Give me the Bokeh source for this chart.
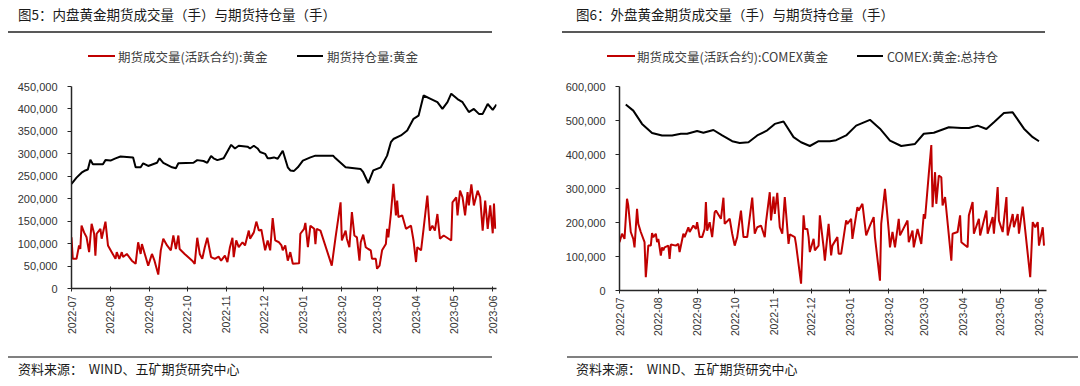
import pandas as pd
from math import pi
from bokeh.plotting import figure
from bokeh.layouts import row, column
from bokeh.models import (Div, NumeralTickFormatter, FixedTicker, DatetimeTickFormatter, Range1d)
from bokeh.embed import file_html
from bokeh.resources import INLINE

START = pd.Timestamp("2022-07-01")
month_labels = ["2022-07", "2022-08", "2022-09", "2022-10", "2022-11", "2022-12",
                "2023-01", "2023-02", "2023-03", "2023-04", "2023-05", "2023-06"]

# ---- 内盘 (SHFE gold), values in thousands of lots, x = days since 2022-07-01
sh_oi_day = [0, 4, 8, 11, 13, 15, 17, 25, 27, 31, 35, 39, 49, 51, 55, 57, 61, 68, 70, 73,
             80, 83, 85, 97, 100, 105, 108, 111, 113, 116, 121, 124, 127, 130, 133, 140, 142, 145, 148, 150,
             154, 156, 158, 161, 164, 168, 172, 174, 177, 180, 184, 190, 194, 208, 210, 218, 230, 232, 236, 240,
             246, 251, 254, 256, 262, 267, 272, 276, 280, 286, 291, 295, 299, 302, 307, 311, 316, 320, 324, 327,
             331, 335, 338]
sh_oi_k = [233, 247, 258, 263, 265, 287, 277, 277, 286, 285, 290, 294, 292, 270, 270, 279, 273, 280, 290, 280,
           270, 268, 279, 280, 286, 284, 280, 295, 290, 286, 290, 305, 320, 312, 318, 316, 312, 318, 312, 304,
           300, 290, 290, 292, 289, 307, 270, 263, 262, 270, 285, 292, 296, 296, 290, 270, 266, 259, 235, 263,
           270, 296, 326, 333, 341, 352, 378, 385, 430, 422, 415, 400, 415, 434, 422, 415, 393, 400, 389, 389,
           411, 398, 410]

sh_vol_day = [0, 1, 4, 6, 7, 8, 10, 12, 14, 16, 18, 19, 20, 23, 24, 27, 29, 32, 35, 36,
              38, 40, 41, 44, 48, 51, 53, 55, 56, 59, 61, 64, 66, 69, 71, 73, 76, 79, 81, 83,
              85, 86, 90, 96, 98, 100, 102, 104, 106, 108, 111, 114, 117, 119, 122, 124, 126, 128, 129, 131,
              133, 136, 138, 141, 142, 145, 147, 149, 151, 154, 156, 158, 160, 162, 165, 167, 168, 170, 172, 174,
              176, 181, 182, 185, 186, 188, 190, 193, 194, 195, 198, 207, 210, 214, 215, 218, 219, 221, 223, 225,
              227, 229, 230, 232, 234, 236, 238, 239, 242, 243, 245, 247, 250, 251, 252, 254, 256, 258, 259, 260,
              263, 266, 270, 272, 274, 275, 278, 280, 283, 285, 287, 289, 291, 293, 296, 302, 303, 306, 307, 309,
              311, 313, 315, 316, 318, 320, 323, 325, 327, 329, 331, 333, 335, 336, 337]
sh_vol_k = [114, 66, 66, 96, 88, 140, 125, 114, 81, 144, 122, 73, 122, 133, 111, 149, 96, 81, 66, 81,
            66, 81, 70, 77, 62, 55, 103, 77, 99, 70, 51, 77, 62, 31, 85, 111, 96, 85, 118, 88,
            118, 88, 77, 62, 55, 113, 77, 66, 92, 113, 70, 66, 71, 62, 73, 59, 92, 113, 70, 107,
            92, 103, 96, 129, 111, 125, 149, 129, 131, 85, 107, 85, 157, 107, 103, 96, 85, 96, 62, 81,
            55, 56, 122, 133, 146, 92, 140, 133, 99, 133, 129, 51, 114, 192, 107, 129, 111, 92, 170, 118,
            114, 62, 103, 120, 92, 88, 85, 66, 66, 44, 51, 85, 99, 133, 114, 166, 233, 163, 196, 159,
            163, 133, 140, 107, 59, 92, 85, 133, 207, 129, 140, 129, 166, 111, 118, 107, 192, 203, 163, 218,
            203, 163, 215, 185, 232, 185, 218, 203, 129, 196, 133, 185, 123, 189, 133]

# ---- 外盘 (COMEX gold)
cx_oi_day = [5, 11, 18, 26, 34, 42, 49, 54, 62, 67, 75, 82, 90, 96, 103, 110, 118, 124, 131, 139,
             145, 152, 159, 168, 173, 181, 189, 200, 208, 216, 225, 236, 243, 251, 263, 273, 279, 286, 293, 299,
             307, 314, 323, 330, 335]
cx_oi_k = [547, 529, 490, 463, 456, 456, 461, 461, 469, 464, 472, 456, 439, 434, 436, 456, 471, 490, 497, 451,
           436, 425, 439, 439, 442, 456, 485, 502, 476, 441, 425, 431, 461, 464, 480, 478, 478, 485, 475, 495,
           522, 524, 476, 451, 439]

cx_vol_day = [0, 2, 4, 6, 7, 9, 11, 12, 14, 15, 17, 20, 21, 23, 25, 26, 27, 29, 30, 31,
              33, 34, 35, 36, 39, 40, 41, 45, 47, 48, 51, 52, 55, 56, 59, 61, 62, 64, 66, 68,
              69, 70, 72, 74, 76, 77, 81, 83, 84, 88, 90, 92, 94, 97, 99, 102, 103, 106, 108, 110,
              113, 116, 117, 120, 121, 123, 124, 126, 128, 130, 132, 135, 136, 140, 141, 145, 147, 148, 150, 151,
              152, 155, 156, 159, 160, 163, 164, 167, 169, 170, 174, 175, 177, 181, 182, 185, 186, 190, 191, 194,
              197, 200, 203, 204, 208, 209, 212, 215, 216, 218, 220, 223, 224, 230, 231, 234, 235, 238, 241, 243,
              244, 247, 249, 250, 252, 253, 255, 257, 258, 260, 265, 266, 270, 272, 273, 278, 279, 282, 283, 287,
              288, 293, 294, 298, 299, 302, 303, 306, 309, 310, 314, 315, 318, 319, 322, 328, 330, 332, 334, 335,
              338, 339]
cx_vol_k = [142, 167, 152, 270, 250, 172, 152, 127, 240, 196, 172, 142, 39, 132, 132, 169, 157, 167, 142, 152,
            103, 127, 118, 127, 132, 93, 135, 132, 137, 113, 167, 157, 186, 172, 191, 181, 201, 157, 157, 181,
            260, 176, 201, 157, 230, 235, 211, 273, 196, 211, 167, 132, 157, 235, 157, 157, 186, 273, 167, 186,
            191, 157, 201, 289, 206, 276, 225, 287, 186, 167, 275, 137, 165, 157, 135, 20, 221, 181, 181, 157,
            113, 152, 118, 132, 221, 127, 88, 196, 103, 132, 157, 108, 108, 206, 196, 211, 152, 245, 235, 255,
            162, 191, 216, 157, 29, 196, 299, 176, 127, 172, 127, 211, 162, 206, 142, 176, 127, 181, 137, 225,
            211, 343, 428, 245, 348, 255, 338, 333, 250, 275, 88, 167, 172, 221, 142, 127, 221, 260, 167, 211,
            162, 235, 167, 216, 167, 304, 206, 172, 275, 162, 225, 186, 225, 167, 247, 39, 201, 186, 201, 132,
            186, 132]

RED = "#C00000"
BLACK = "#000000"
CJK = "Noto Sans CJK SC"
NUM = "Liberation Sans"
SOURCE = "资料来源：&nbsp;&nbsp;WIND、五矿期货研究中心"


def series(days, vals):
    pairs = list(zip(days, vals))
    x = [START + pd.Timedelta(days=d) for d, _ in pairs]
    y = [v * 1000 for _, v in pairs]
    return x, y


def chart(width, fl, fr, fb, x_end_days, ymax, ystep, vol, oi):
    p = figure(width=width, height=285, x_axis_type="datetime", output_backend="svg",
               toolbar_location=None, title=None,
               x_range=Range1d(START, START + pd.Timedelta(days=x_end_days)),
               y_range=Range1d(0, ymax),
               min_border_left=fl, min_border_right=fr, min_border_top=15, min_border_bottom=fb)
    p.outline_line_color = None
    p.grid.visible = False
    p.background_fill_color = "white"

    ticks = [pd.Timestamp(m + "-01").timestamp() * 1000 for m in month_labels]
    p.xaxis.ticker = FixedTicker(ticks=ticks)
    p.xaxis.formatter = DatetimeTickFormatter(days="%Y-%m", months="%Y-%m", years="%Y-%m")
    p.xaxis.major_label_orientation = pi / 2
    p.yaxis.ticker = FixedTicker(ticks=list(range(0, ymax + 1, ystep)))
    p.yaxis.formatter = NumeralTickFormatter(format="0,0")
    for ax in (p.xaxis, p.yaxis):
        ax.axis_line_color = "#262626"
        ax.axis_line_width = 1.5
        ax.major_tick_line_color = "#262626"
        ax.minor_tick_line_color = None
        ax.major_label_text_font = NUM
        ax.major_label_text_color = "#333333"
    p.xaxis.major_tick_out = 3
    p.xaxis.major_tick_in = 2
    p.xaxis.major_label_standoff = 4
    p.xaxis.major_label_text_font_size = "10.5px"
    p.yaxis.major_tick_out = 4
    p.yaxis.major_tick_in = 0
    p.yaxis.major_label_standoff = 10
    p.yaxis.major_label_text_font_size = "11px"

    vx, vy = series(*vol)
    ox, oy = series(*oi)
    p.line(vx, vy, line_color=RED, line_width=2)
    p.line(ox, oy, line_color=BLACK, line_width=2)
    return p


def title_div(text, width, ml, w, pl):
    html = (f'<div style="margin-left:{ml}px;width:{w}px;height:33px;box-sizing:border-box;'
            f'border-bottom:2px solid #595959;padding-left:{pl}px;font-family:\'{CJK}\';'
            f'font-size:13.5px;color:#1a1a1a;line-height:28px;white-space:nowrap;">{text}</div>')
    return Div(text=html, width=width, height=33, margin=0)


def legend_div(width, items):
    # items: (line_left, line_width, text_left, color, label)
    parts = []
    for ll, lw, tl, color, label in items:
        parts.append(f'<div style="position:absolute;left:{ll}px;top:22px;width:{lw}px;height:0;'
                     f'border-top:2.5px solid {color};"></div>')
        parts.append(f'<div style="position:absolute;left:{tl}px;top:15px;line-height:18px;'
                     f'white-space:nowrap;font-family:\'{CJK}\';font-size:12.5px;color:#404040;">{label}</div>')
    html = f'<div style="position:relative;width:{width}px;height:38px;">{"".join(parts)}</div>'
    return Div(text=html, width=width, height=38, margin=0)


def source_div(width, ml, w, pl):
    html = (f'<div style="margin-left:{ml}px;width:{w}px;height:28px;box-sizing:border-box;'
            f'border-top:2px solid #808080;padding-left:{pl}px;font-family:\'{CJK}\';'
            f'font-size:13px;color:#1a1a1a;line-height:22px;white-space:nowrap;">{SOURCE}</div>')
    return Div(text=html, width=width, height=28, margin=0)


left_chart = chart(540, 71, 44, 68, 338, 450000, 50000,
                   (sh_vol_day, sh_vol_k), (sh_oi_day, sh_oi_k))
right_chart = chart(538, 79, 32, 66, 341, 600000, 100000,
                    (cx_vol_day, cx_vol_k), (cx_oi_day, cx_oi_k))

left = column(title_div("图5：内盘黄金期货成交量（手）与期货持仓量（手）", 540, 8, 484, 10),
              legend_div(540, [(88, 27, 118, RED, "期货成交量(活跃合约):黄金"),
                               (297, 26, 327, BLACK, "期货持仓量:黄金")]),
              left_chart, source_div(540, 8, 484, 10), spacing=0)
right = column(title_div("图6：外盘黄金期货成交量（手）与期货持仓量（手）", 538, 22, 483, 14),
               legend_div(538, [(67, 28, 97, RED, "期货成交量(活跃合约):COMEX黄金"),
                                (317, 26, 347, BLACK, "COMEX:黄金:总持仓")]),
               right_chart, source_div(538, 27, 511, 9), spacing=0)

layout = row(left, right, spacing=0)
open("out.html", "w").write(file_html(layout, INLINE))
